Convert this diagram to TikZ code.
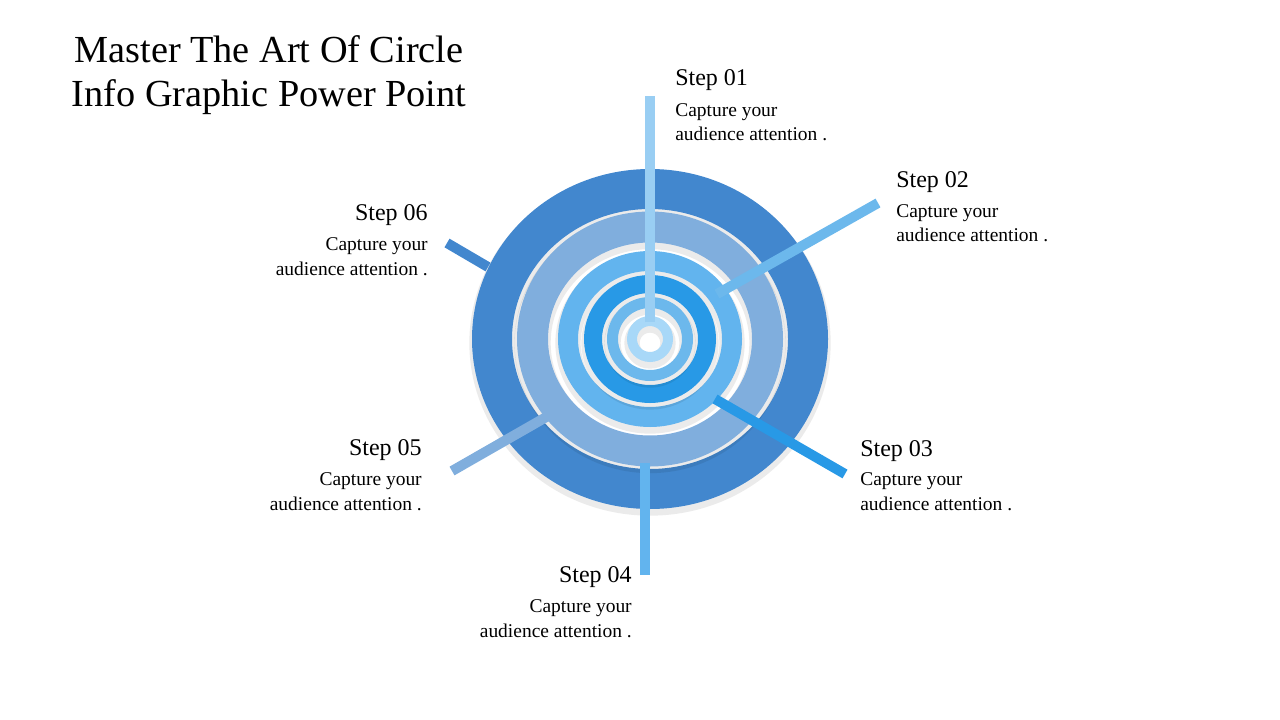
\documentclass[tikz,border=0pt]{standalone}
\usepackage{fontspec}
\setmainfont{Liberation Serif}
\usepackage{tikz}

\definecolor{ringA}{RGB}{66,135,206}
\definecolor{ringB}{RGB}{128,174,221}
\definecolor{ringC}{RGB}{98,180,238}
\definecolor{ringD}{RGB}{40,153,230}
\definecolor{ringE}{RGB}{108,184,236}
\definecolor{ringF}{RGB}{168,216,248}
\definecolor{barF}{RGB}{153,206,243}

\begin{document}
\begin{tikzpicture}[x=0.75pt,y=-0.75pt]
\tikzstyle{ring}=[preaction={draw=black, opacity=.08, line width=\pgflinewidth+2pt, transform canvas={yshift=-3pt}},
  preaction={draw=black, opacity=.22, transform canvas={yshift=-2pt}}]
\tikzstyle{bar}=[line width=7.5pt]
\tikzstyle{steptitle}=[inner sep=0pt, font=\fontsize{18}{22}\selectfont]
\tikzstyle{steptext}=[inner sep=0pt, font=\fontsize{14.6}{18.3}\selectfont]

\useasboundingbox (0,0) rectangle (1280,720);

\node[inner sep=0pt, align=center, font=\fontsize{28.7}{33}\selectfont, anchor=base] (title) at (269,107)
  {Master The Art Of Circle\\Info Graphic Power Point};

% the target, outermost ring first
\coordinate (c) at (650,339);
\draw[ring, ringA, line width=30pt] (c) ellipse (158 and 150);
\draw[ring, ringB, line width=23.25pt] (c) ellipse (117.5 and 112);
\draw[ring, ringC, line width=15pt] (c) ellipse (82 and 78);
\draw[ring, ringD, line width=13.5pt] (c) ellipse (57 and 55);
\draw[ring, ringE, line width=8.25pt] (c) ellipse (37.5 and 36.5);
\draw[ring, ringF, line width=7.5pt] (c) ellipse (18 and 18);

% bars
\coordinate (b1a) at (650,322);  \coordinate (b1b) at (650,96);
\coordinate (b2a) at (717,294);  \coordinate (b2b) at (878,203);
\coordinate (b3a) at (715,399);  \coordinate (b3b) at (845,474);
\coordinate (b4a) at (645,463);  \coordinate (b4b) at (645,575);
\coordinate (b5a) at (548,416);  \coordinate (b5b) at (452,471);
\coordinate (b6a) at (488,267);  \coordinate (b6b) at (447,243);
\draw[bar, barF] (b1a) -- (b1b);
\draw[bar, ringE] (b2a) -- (b2b);
\draw[bar, ringD] (b3a) -- (b3b);
\draw[bar, ringC] (b4a) -- (b4b);
\draw[bar, ringB] (b5a) -- (b5b);
\draw[bar, ringA] (b6a) -- (b6b);

% labels
\node[steptitle, anchor=base west] (s1) at (675,86) {Step 01};
\node[steptext, anchor=base west, align=left] (t1) at (675,141) {Capture your\\audience attention .};
\node[steptitle, anchor=base west] (s2) at (896,188) {Step 02};
\node[steptext, anchor=base west, align=left] (t2) at (896,242) {Capture your\\audience attention .};
\node[steptitle, anchor=base west] (s3) at (860,456) {Step 03};
\node[steptext, anchor=base west, align=left] (t3) at (860,510) {Capture your\\audience attention .};
\node[steptitle, anchor=base east] (s4) at (632,582) {Step 04};
\node[steptext, anchor=base east, align=right] (t4) at (632,637) {Capture your\\audience attention .};
\node[steptitle, anchor=base east] (s5) at (422,455) {Step 05};
\node[steptext, anchor=base east, align=right] (t5) at (422,510) {Capture your\\audience attention .};
\node[steptitle, anchor=base east] (s6) at (428,221) {Step 06};
\node[steptext, anchor=base east, align=right] (t6) at (428,275) {Capture your\\audience attention .};
\end{tikzpicture}
\end{document}
